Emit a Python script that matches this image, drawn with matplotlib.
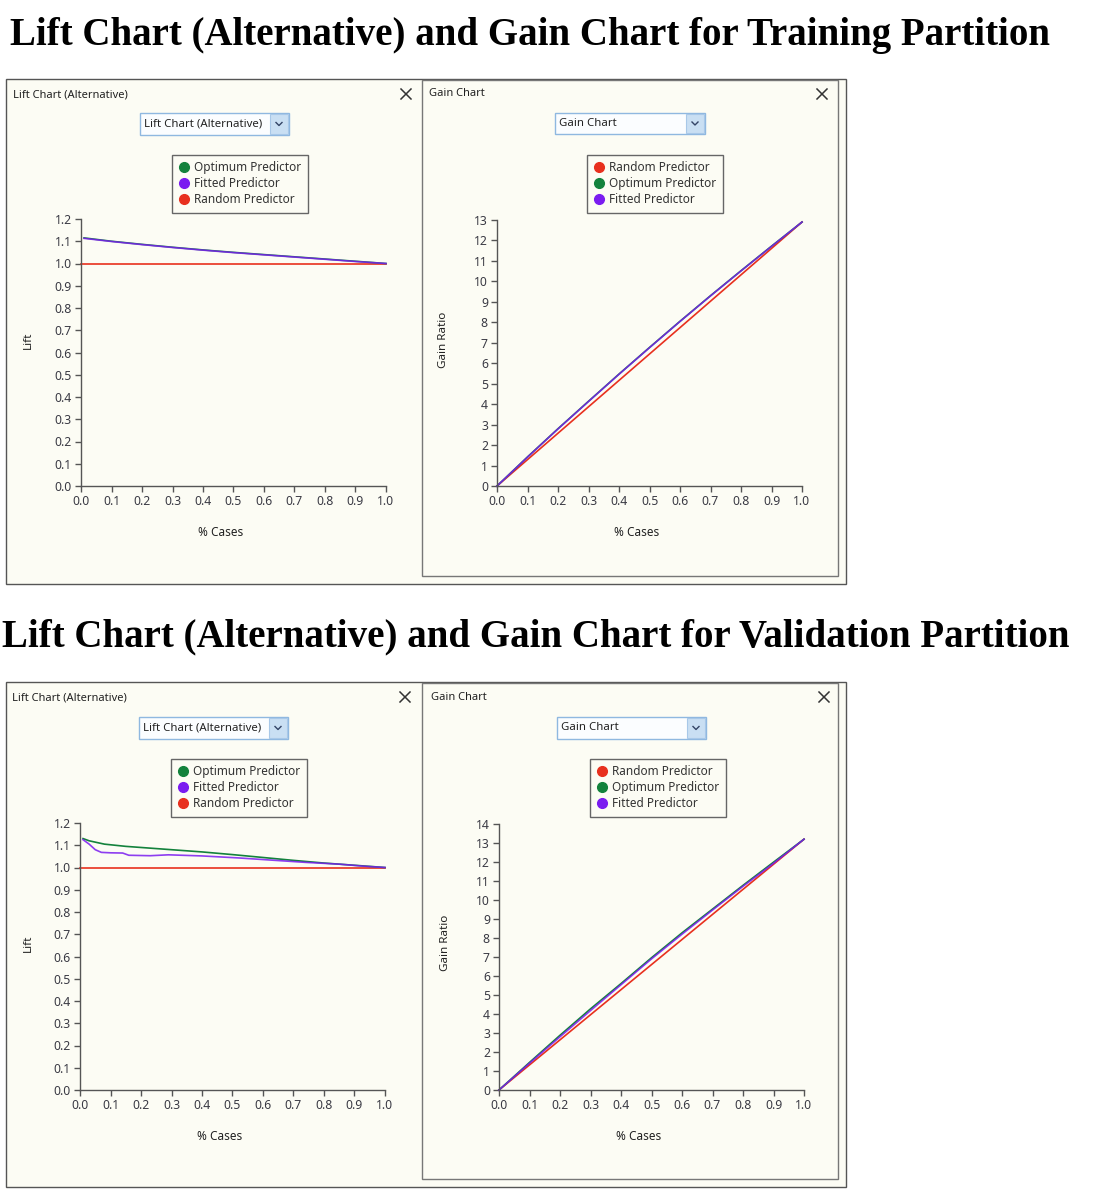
import matplotlib
matplotlib.use('Agg')
import matplotlib.pyplot as plt
from matplotlib.patches import Rectangle
from matplotlib.lines import Line2D

W, H = 1097, 1200

# ---------------- data ----------------
titles = ["Lift Chart (Alternative) and Gain Chart for Training Partition",
          "Lift Chart (Alternative) and Gain Chart for Validation Partition"]

lift_ticks = [0.0, 0.1, 0.2, 0.3, 0.4, 0.5, 0.6, 0.7, 0.8, 0.9, 1.0, 1.1, 1.2]
x_ticks = [0.0, 0.1, 0.2, 0.3, 0.4, 0.5, 0.6, 0.7, 0.8, 0.9, 1.0]

# Training lift
train_lift_x = [0.01, 0.1, 0.2, 0.3, 0.4, 0.5, 0.6, 0.7, 0.8, 0.9, 1.0]
train_lift_optimum = [1.115, 1.100, 1.086, 1.073, 1.061, 1.050, 1.040, 1.030, 1.020, 1.010, 1.000]
train_lift_fitted = [1.113, 1.099, 1.085, 1.072, 1.060, 1.049, 1.039, 1.029, 1.019, 1.009, 1.000]
random_lift_x = [0.0, 1.0]
random_lift = [1.0, 1.0]

# Validation lift
valid_opt_x = [0.01, 0.03, 0.08, 0.15, 0.2, 0.3, 0.4, 0.5, 0.6, 0.7, 0.8, 0.9, 1.0]
valid_lift_optimum = [1.13, 1.12, 1.105, 1.095, 1.09, 1.08, 1.07, 1.058, 1.045, 1.032, 1.02, 1.01, 1.0]
valid_fit_x = [0.01, 0.03, 0.05, 0.07, 0.10, 0.14, 0.16, 0.23, 0.29, 0.4, 0.52, 0.63, 0.74, 0.85, 0.93, 1.0]
valid_lift_fitted = [1.125, 1.105, 1.08, 1.068, 1.066, 1.065, 1.055, 1.053, 1.057, 1.052, 1.043, 1.033,
                     1.023, 1.015, 1.006, 1.0]

# Gain
gain_x = [0.0, 0.1, 0.2, 0.3, 0.4, 0.5, 0.6, 0.7, 0.8, 0.9, 1.0]
train_gain_optimum = [0, 1.42, 2.80, 4.14, 5.47, 6.77, 8.05, 9.30, 10.52, 11.72, 12.9]
train_gain_fitted = [0, 1.41, 2.79, 4.13, 5.46, 6.76, 8.04, 9.29, 10.51, 11.71, 12.9]
train_gain_random = [0, 12.9]
valid_gain_optimum = [0, 1.45, 2.88, 4.27, 5.60, 6.96, 8.27, 9.52, 10.77, 11.99, 13.2]
valid_gain_fitted = [0, 1.41, 2.80, 4.18, 5.54, 6.90, 8.20, 9.47, 10.72, 11.93, 13.2]
valid_gain_random = [0, 13.2]
random_gain_x = [0.0, 1.0]

GREEN = '#13823c'
PURPLE = '#7a1cf0'
RED = '#e8301e'
BG = '#fcfcf4'
FONT = ['Noto Sans', 'DejaVu Sans']

plt.rcParams['font.family'] = FONT

fig = plt.figure(figsize=(W / 100, H / 100), dpi=100)
fig.patch.set_facecolor('white')

# overlay axes in pixel coordinates
bg = fig.add_axes([0, 0, 1, 1], zorder=0)
bg.set_xlim(0, W)
bg.set_ylim(H, 0)
bg.axis('off')


def px_rect(x0, y0, x1, y1):
    return [x0 / W, 1 - y1 / H, (x1 - x0) / W, (y1 - y0) / H]


def window_frame(y_off):
    bg.add_patch(Rectangle((6, 79 + y_off), 840, 505, facecolor=BG, edgecolor='#555555', lw=1.0))
    bg.add_patch(Rectangle((422, 80 + y_off), 416, 496, facecolor='none', edgecolor='#777777', lw=1.0))


def window_title(x, y, s):
    bg.text(x, y, s, fontsize=8.0, color='#222222', va='center', ha='left')


def close_btn(x, y):
    d = 5
    bg.plot([x - d, x + d], [y - d, y + d], color='#333333', lw=1.1)
    bg.plot([x - d, x + d], [y + d, y - d], color='#333333', lw=1.1)


def dropdown(x0, y0, x1, y1, s):
    bg.add_patch(Rectangle((x0, y0), x1 - x0, y1 - y0, facecolor='#fbfdff', edgecolor='#8fb8e0', lw=1.0))
    bg.add_patch(Rectangle((x1 - 19, y0 + 1), 18, y1 - y0 - 2, facecolor='#c9dff3', edgecolor='#a8c8e8', lw=0.8))
    cx, cy = x1 - 10, (y0 + y1) / 2
    bg.plot([cx - 3, cx, cx + 3], [cy - 1.5, cy + 1.5, cy - 1.5], color='#334466', lw=1.0)
    bg.text(x0 + 4, (y0 + y1) / 2, s, fontsize=8.2, color='#222222', va='center', ha='left')


def make_legend(ax, x, y, entries):
    handles = [Line2D([], [], marker='o', linestyle='none', markersize=7,
                      markerfacecolor=c, markeredgecolor=c, label=l) for l, c in entries]
    leg = ax.legend(handles=handles, loc='upper left',
                    bbox_to_anchor=(x / W, 1 - y / H), bbox_transform=fig.transFigure,
                    borderaxespad=0, fancybox=False, framealpha=1, facecolor=BG,
                    edgecolor='#666666', fontsize=8.5, handletextpad=0.35,
                    labelspacing=0.25, borderpad=0.55, handlelength=1.0,
                    labelcolor='#333333')
    leg.get_frame().set_linewidth(1.0)


def style_axes(ax, ylim, yticks, yfmt):
    ax.set_facecolor('none')
    ax.set_xlim(0, 1.0)
    ax.set_ylim(*ylim)
    ax.set_xticks(x_ticks)
    ax.set_xticklabels([f"{v:.1f}" for v in x_ticks])
    ax.set_yticks(yticks)
    ax.set_yticklabels([yfmt(v) for v in yticks])
    for s in ['top', 'right']:
        ax.spines[s].set_visible(False)
    for s in ['left', 'bottom']:
        ax.spines[s].set_color('#555555')
        ax.spines[s].set_linewidth(1.0)
    ax.tick_params(axis='both', direction='out', length=4.5, width=1.0, color='#555555',
                   labelsize=8.8, labelcolor='#3a3a44', pad=2)


def add_labels(ax, ylab, ylab_px, xlab_px, rect):
    x0, y0, x1, y1 = rect
    ax.set_ylabel(ylab, fontsize=8.4, fontweight='semibold', color='#222222')
    ax.yaxis.set_label_coords((ylab_px[0] - x0) / (x1 - x0), (y1 - ylab_px[1]) / (y1 - y0))
    ax.set_xlabel('% Cases', fontsize=8.5, fontweight='semibold', color='#222222')
    ax.xaxis.set_label_coords((xlab_px[0] - x0) / (x1 - x0), (y1 - xlab_px[1]) / (y1 - y0))
    ax.xaxis.label.set_va('center')
    ax.yaxis.label.set_va('center')


def lift_panel(rect, opt_x, opt, fit_x, fit, ylab_px, xlab_px, legend_xy):
    ax = fig.add_axes(px_rect(*rect), zorder=2)
    style_axes(ax, (0, 1.2), lift_ticks, lambda v: f"{v:.1f}")
    ax.plot(random_lift_x, random_lift, color=RED, lw=1.2, clip_on=False)
    ax.plot(opt_x, opt, color=GREEN, lw=1.2, clip_on=False)
    ax.plot(fit_x, fit, color=PURPLE, lw=1.2, alpha=0.85, clip_on=False)
    add_labels(ax, 'Lift', ylab_px, xlab_px, rect)
    make_legend(ax, legend_xy[0], legend_xy[1],
                [('Optimum Predictor', GREEN), ('Fitted Predictor', PURPLE), ('Random Predictor', RED)])
    return ax


def gain_panel(rect, ymax, opt, fit, rnd, ylab_px, xlab_px, legend_xy):
    ax = fig.add_axes(px_rect(*rect), zorder=2)
    yt = list(range(0, ymax + 1))
    style_axes(ax, (0, ymax), yt, lambda v: f"{v:d}")
    ax.plot(random_gain_x, rnd, color=RED, lw=1.2, clip_on=False)
    ax.plot(gain_x, opt, color=GREEN, lw=1.2, clip_on=False)
    ax.plot(gain_x, fit, color=PURPLE, lw=1.2, alpha=0.85, clip_on=False)
    add_labels(ax, 'Gain Ratio', ylab_px, xlab_px, rect)
    make_legend(ax, legend_xy[0], legend_xy[1],
                [('Random Predictor', RED), ('Optimum Predictor', GREEN), ('Fitted Predictor', PURPLE)])
    return ax


# ---------------- titles ----------------
title_font = ['Liberation Serif', 'DejaVu Serif']
bg.text(10, 35, titles[0], fontsize=28, fontweight='bold', family=title_font,
        va='center', ha='left', color='black')
bg.text(2, 637, titles[1], fontsize=28, fontweight='bold', family=title_font,
        va='center', ha='left', color='black')

# ---------------- training ----------------
window_frame(0)
window_title(13, 95, 'Lift Chart (Alternative)')
window_title(429, 94, 'Gain Chart')
close_btn(406, 94)
close_btn(822, 94)
dropdown(140, 113, 289, 135, 'Lift Chart (Alternative)')
dropdown(555, 113, 705, 134, 'Gain Chart')

lift_panel((81, 219, 386, 486), train_lift_x, train_lift_optimum, train_lift_x, train_lift_fitted,
           (28, 340), (221, 532), (172, 155))
gain_panel((497, 220, 802, 486), 13, train_gain_optimum, train_gain_fitted, train_gain_random,
           (443, 340), (637, 532), (587, 155))

# ---------------- validation ----------------
window_frame(603)
window_title(12, 698, 'Lift Chart (Alternative)')
window_title(431, 698, 'Gain Chart')
close_btn(405, 697)
close_btn(824, 697)
dropdown(139, 717, 288, 739, 'Lift Chart (Alternative)')
dropdown(557, 717, 706, 739, 'Gain Chart')

lift_panel((80, 823, 385, 1090), valid_opt_x, valid_lift_optimum, valid_fit_x, valid_lift_fitted,
           (28, 943), (220, 1136), (171, 759))
gain_panel((499, 824, 804, 1090), 14, valid_gain_optimum, valid_gain_fitted, valid_gain_random,
           (446, 943), (639, 1136), (590, 759))

fig.savefig('out.png', dpi=100, facecolor='white')
